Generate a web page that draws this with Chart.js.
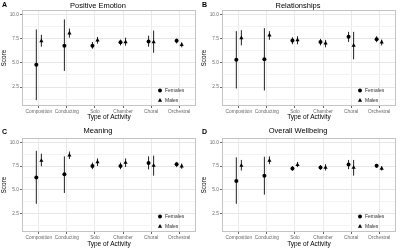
<!DOCTYPE html>
<html>
<head>
<meta charset="utf-8">
<script src="https://cdn.jsdelivr.net/npm/chart.js@4.4.0/dist/chart.umd.min.js"></script>
<style>
  html, body { margin: 0; padding: 0; background: #fff; }
  #grid { position: relative; width: 400px; height: 249px; overflow: hidden; }
  .panel { position: absolute; width: 200px; }
  .tag { position: absolute; left: 2px; top: 0; font: bold 7px "Liberation Sans", Arial, sans-serif; line-height: 9px; color: #000; }
</style>
</head>
<body>
<div id="grid">
  <div class="panel" style="left:0;top:0;height:124px"><canvas id="chartA" width="200" height="124"></canvas><span class="tag">A</span></div>
  <div class="panel" style="left:200px;top:0;height:124px"><canvas id="chartB" width="200" height="124"></canvas><span class="tag">B</span></div>
  <div class="panel" style="left:0;top:124px;height:125px"><canvas id="chartC" width="200" height="125"></canvas><span class="tag" style="top:3px">C</span></div>
  <div class="panel" style="left:200px;top:124px;height:125px"><canvas id="chartD" width="200" height="125"></canvas><span class="tag" style="top:3px">D</span></div>
</div>
<script>
// Categories and y grid
const activities = ['Composition', 'Conducting', 'Solo', 'Chamber', 'Choral', 'Orchestral'];
const yTicks = [1.25, 2.5, 3.75, 5, 6.25, 7.5, 8.75, 10];

// Positive Emotion
const emotionFemales = [4.8, 6.77, 6.77, 7.12, 7.19, 7.29];
const emotionFemalesLow = [1.15, 4.17, 6.46, 6.8, 6.67, 7.0];
const emotionFemalesHigh = [8.44, 9.48, 7.15, 7.4, 7.8, 7.5];
const emotionMales = [7.26, 8.05, 7.33, 7.15, 7.15, 6.87];
const emotionMalesLow = [6.67, 7.6, 6.98, 6.77, 6.04, 6.6];
const emotionMalesHigh = [7.9, 8.54, 7.67, 7.6, 8.33, 7.1];

// Relationships
const relationFemales = [5.33, 5.36, 7.3, 7.16, 7.68, 7.44];
const relationFemalesLow = [2.35, 2.15, 6.92, 6.8, 7.16, 7.13];
const relationFemalesHigh = [8.27, 8.58, 7.64, 7.47, 8.2, 7.75];
const relationMales = [7.57, 7.85, 7.36, 7.02, 6.79, 7.13];
const relationMalesLow = [6.8, 7.37, 6.92, 6.6, 5.36, 6.8];
const relationMalesHigh = [8.37, 8.27, 7.75, 7.37, 8.2, 7.4];

// Meaning
const meaningFemales = [6.28, 6.62, 7.5, 7.5, 7.83, 7.69];
const meaningFemalesLow = [3.52, 4.66, 7.17, 7.17, 7.14, 7.38];
const meaningFemalesHigh = [9.1, 8.52, 7.86, 7.86, 8.52, 7.93];
const meaningMales = [8.07, 8.62, 7.93, 7.86, 7.55, 7.48];
const meaningMalesLow = [7.48, 8.24, 7.5, 7.4, 6.48, 7.2];
const meaningMalesHigh = [8.8, 9.03, 8.3, 8.3, 8.59, 7.76];

// Overall Wellbeing
const wellbeingFemales = [5.93, 6.48, 7.24, 7.34, 7.66, 7.52];
const wellbeingFemalesLow = [3.52, 4.48, 7.0, 7.1, 7.17, 7.31];
const wellbeingFemalesHigh = [8.41, 8.48, 7.5, 7.6, 8.14, 7.72];
const wellbeingMales = [7.55, 8.07, 7.62, 7.34, 7.34, 7.24];
const wellbeingMalesLow = [7.03, 7.69, 7.38, 7.03, 6.48, 7.03];
const wellbeingMalesHigh = [8.14, 8.52, 7.93, 7.69, 8.14, 7.48];

const FONT = '"Liberation Sans", Arial, sans-serif';
Chart.defaults.font.family = FONT;
const DODGE = 0.09;

// vertical error bars drawn behind the points
const errorBars = {
  id: 'errorBars',
  beforeDatasetsDraw(chart) {
    const { ctx, scales: { x, y } } = chart;
    ctx.save();
    ctx.strokeStyle = '#222';
    ctx.lineWidth = 1;
    chart.data.datasets.forEach((ds) => {
      ds.data.forEach((p, i) => {
        const px = x.getPixelForValue(p.x);
        ctx.beginPath();
        ctx.moveTo(px, y.getPixelForValue(ds.low[i]));
        ctx.lineTo(px, y.getPixelForValue(ds.high[i]));
        ctx.stroke();
      });
    });
    ctx.restore();
  }
};

// panel border + legend inside bottom right
const panelFrame = {
  id: 'panelFrame',
  afterDraw(chart) {
    const { ctx, chartArea: a } = chart;
    ctx.save();
    ctx.strokeStyle = '#c4c4c4';
    ctx.lineWidth = 1;
    ctx.strokeRect(a.left + 0.5, a.top + 0.5, a.width - 1, a.height - 1);

    const lx = a.right - 36;
    ctx.font = '5px ' + FONT;
    ctx.textBaseline = 'middle';
    ctx.textAlign = 'left';
    chart.data.datasets.forEach((ds, i) => {
      const ly = a.bottom - 15.5 + i * 10;
      ctx.fillStyle = '#000';
      ctx.strokeStyle = '#000';
      Chart.helpers.drawPoint(ctx, { pointStyle: ds.pointStyle, radius: ds.pointRadius, borderWidth: 0, rotation: 0 }, lx, ly);
      ctx.fillStyle = '#333';
      ctx.fillText(ds.label, lx + 5, ly);
    });
    ctx.restore();
  }
};

function makePanel(id, title, f, fLo, fHi, m, mLo, mHi, row) {
  const isMajor = (v) => Math.abs(v / 2.5 - Math.round(v / 2.5)) < 1e-6;
  return new Chart(document.getElementById(id), {
    type: 'scatter',
    data: {
      datasets: [
        {
          label: 'Females',
          data: f.map((v, i) => ({ x: i + 1 - DODGE, y: v })),
          low: fLo, high: fHi,
          pointStyle: 'circle', pointRadius: 2,
          backgroundColor: '#000', borderColor: '#000', borderWidth: 0
        },
        {
          label: 'Males',
          data: m.map((v, i) => ({ x: i + 1 + DODGE, y: v })),
          low: mLo, high: mHi,
          pointStyle: 'triangle', pointRadius: 2.4,
          backgroundColor: '#000', borderColor: '#000', borderWidth: 0
        }
      ]
    },
    options: {
      responsive: false,
      devicePixelRatio: 1,
      animation: false,
      layout: { padding: { left: 0, right: 4, top: 0, bottom: 0 } },
      plugins: {
        legend: { display: false },
        tooltip: { enabled: false },
        title: {
          display: true,
          text: title,
          color: '#000',
          font: { size: 7.5, weight: 'normal' },
          padding: { top: row.titleTop, bottom: row.titleBottom }
        }
      },
      scales: {
        x: {
          type: 'linear',
          min: 0.4,
          max: 6.6,
          afterBuildTicks: (s) => { s.ticks = activities.map((_, i) => ({ value: i + 1 })); },
          afterFit: (s) => { s.height = row.xHeight; },
          ticks: {
            callback: (v) => activities[v - 1] || '',
            color: '#6b6b6b',
            font: { size: 4.8 },
            padding: 1,
            maxRotation: 0,
            autoSkip: false
          },
          grid: { color: '#e9e9e9', lineWidth: 1, tickLength: 2, tickColor: '#666' },
          border: { display: false },
          title: {
            display: true,
            text: 'Type of Activity',
            color: '#000',
            font: { size: 6.5 },
            padding: { top: 0, bottom: row.xTitlePad }
          }
        },
        y: {
          min: 0.55,
          max: 10.45,
          afterBuildTicks: (s) => { s.ticks = yTicks.map((v) => ({ value: v })); },
          afterFit: (s) => { s.width = 22; },
          ticks: {
            callback: (v) => (isMajor(v) ? v.toFixed(1) : ''),
            color: '#6b6b6b',
            font: { size: 4.8 },
            padding: 1
          },
          grid: {
            color: (c) => (c.tick && isMajor(c.tick.value) ? '#e6e6e6' : '#f3f3f3'),
            lineWidth: 1,
            tickLength: 2,
            tickColor: (c) => (c.tick && isMajor(c.tick.value) ? '#666' : 'rgba(0,0,0,0)')
          },
          border: { display: false },
          title: {
            display: true,
            text: 'Score',
            color: '#000',
            font: { size: 6.5 },
            padding: { top: 0, bottom: 0 }
          }
        }
      }
    },
    plugins: [errorBars, panelFrame]
  });
}

const topRow = { titleTop: 1, titleBottom: 0, xHeight: 18, xTitlePad: 3 };
const bottomRow = { titleTop: 2, titleBottom: 3, xHeight: 17, xTitlePad: 1 };

makePanel('chartA', 'Positive Emotion', emotionFemales, emotionFemalesLow, emotionFemalesHigh,
  emotionMales, emotionMalesLow, emotionMalesHigh, topRow);
makePanel('chartB', 'Relationships', relationFemales, relationFemalesLow, relationFemalesHigh,
  relationMales, relationMalesLow, relationMalesHigh, topRow);
makePanel('chartC', 'Meaning', meaningFemales, meaningFemalesLow, meaningFemalesHigh,
  meaningMales, meaningMalesLow, meaningMalesHigh, bottomRow);
makePanel('chartD', 'Overall Wellbeing', wellbeingFemales, wellbeingFemalesLow, wellbeingFemalesHigh,
  wellbeingMales, wellbeingMalesLow, wellbeingMalesHigh, bottomRow);
</script>
</body>
</html>
